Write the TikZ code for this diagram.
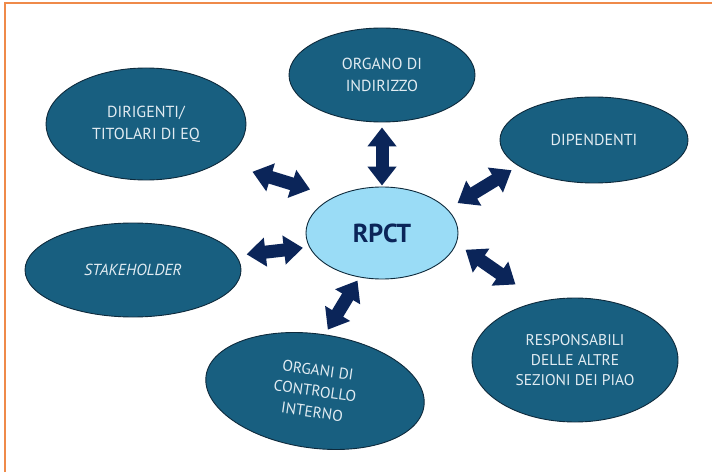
\documentclass[tikz,border=0pt]{standalone}
\usepackage{fontspec}
\setmainfont{PT Sans}
\usetikzlibrary{arrows.meta,shapes.geometric}
\definecolor{bordo}{HTML}{EF8A4A}
\definecolor{ovale}{HTML}{185F80}
\definecolor{contorno}{HTML}{0E2A3C}
\definecolor{centro}{HTML}{9ADCF6}
\definecolor{blu}{HTML}{0B2559}
\definecolor{testo}{HTML}{E2ECF2}
\begin{document}
\begin{tikzpicture}[x=1pt, y=1pt,
    ruolo/.style={ellipse, draw=contorno, line width=0.9pt, fill=ovale, text=testo, inner sep=0pt, align=center, font=\fontsize{16}{22}\selectfont},
    freccia/.style={blu, line width=13pt, {Triangle[length=19pt,width=28pt]}-{Triangle[length=19pt,width=28pt]}}]
    \fill[white] (0,0) rectangle (712,472);
    \useasboundingbox (0,0) rectangle (712,472);
    % cornice arancione (solo alto e sinistra)
    \draw[bordo, line width=2pt] (5,0) -- (5,469) -- (712,469);

    % RPCT al centro
    \node[ruolo, fill=centro, text=blu, minimum width=152pt, minimum height=92pt, font=\fontsize{26}{30}\selectfont\bfseries] (rpct) at (382,239) {RPCT};

    % soggetti intorno
    \node[ruolo, minimum width=186pt, minimum height=94pt] (org) at (382,397) {ORGANO DI\\INDIRIZZO};
    \node[ruolo, minimum width=200pt, minimum height=112pt] (dir) at (146,348) {DIRIGENTI/\\TITOLARI DI EQ};
    \node[ruolo, minimum width=188pt, minimum height=86pt] (dip) at (594,332) {DIPENDENTI};
    \node[ruolo, minimum width=216pt, minimum height=94pt] (stk) at (133,202) {\itshape STAKEHOLDER};
    \node[ruolo, minimum width=220pt, minimum height=114pt, rotate=-8, font=\fontsize{15.5}{21}\selectfont] (oci) at (315,81) {ORGANI DI\\CONTROLLO\\INTERNO};
    \node[ruolo, minimum width=206pt, minimum height=124pt, font=\fontsize{15.5}{20}\selectfont] (resp) at (575,112) {RESPONSABILI\\DELLE ALTRE\\SEZIONI DEI PIAO};

    % frecce doppie
    \draw[freccia, shorten <=5pt, shorten >=1pt] (org.south) -- (rpct.north);
    \draw[freccia, shorten <=33.5pt, shorten >=25pt] (dir.-27.6) -- (rpct.143.4);
    \draw[freccia, shorten <=8pt, shorten >=11.7pt] (dip.-161) -- (rpct.20.3);
    \draw[freccia, shorten <=10.4pt, shorten >=6.3pt] (stk.8.9) -- (rpct.-169.6);
    \draw[freccia, shorten <=29.5pt, shorten >=11pt] (resp.121.6) -- (rpct.-8.2);
    \draw[freccia, shorten <=5.5pt, shorten >=3.7pt] (oci.88.7) -- (rpct.-117.8);
\end{tikzpicture}
\end{document}
